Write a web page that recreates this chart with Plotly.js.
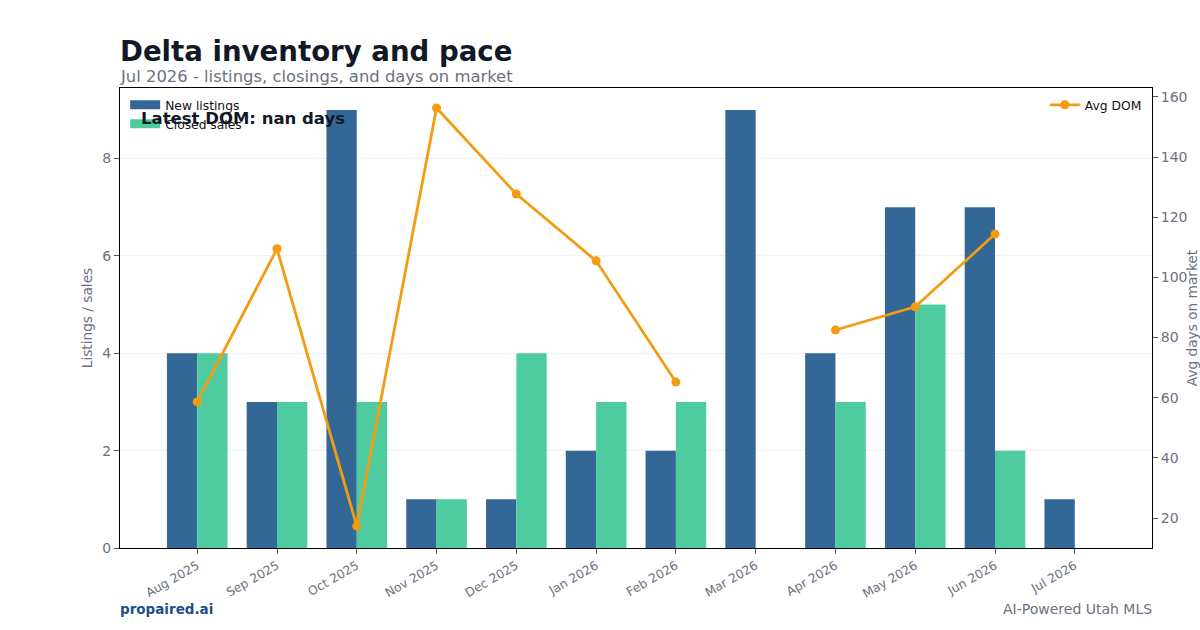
<!DOCTYPE html>
<html>
<head>
<meta charset="utf-8">
<script src="https://cdn.plot.ly/plotly-3.0.1.min.js"></script>
<style>
  html, body { margin: 0; padding: 0; background: #ffffff; }
  #chart { width: 1200px; height: 630px; }
</style>
</head>
<body>
<div id="chart"></div>
<script>
// Monthly inventory figures for the Delta market
const months = ["Aug 2025", "Sep 2025", "Oct 2025", "Nov 2025", "Dec 2025", "Jan 2026",
                "Feb 2026", "Mar 2026", "Apr 2026", "May 2026", "Jun 2026", "Jul 2026"];
const newListings = [4, 3, 9, 1, 1, 2, 2, 9, 4, 7, 7, 1];
const closedSales = [4, 3, 3, 1, 4, 3, 3, 0, 3, 5, 2, 0];
const avgDom = [58.6, 109.5, 17.3, 156.3, 127.7, 105.5, 65.2, null, 82.5, 90.2, 114.4, null];
const latestDomLabel = "Latest DOM: nan days";

const FONT = "DejaVu Sans, Liberation Sans, sans-serif";
const GRAY = "#6b7280";
const BLUE = "#336896";
const GREEN = "#4ecca0";
const ORANGE = "#f39c12";
const idx = months.map((_, i) => i);

const traces = [
  {
    type: "bar", name: "New listings", x: idx, y: newListings,
    marker: { color: BLUE }, showlegend: false, hoverinfo: "skip"
  },
  {
    type: "bar", name: "Closed sales", x: idx, y: closedSales,
    marker: { color: GREEN }, showlegend: false, hoverinfo: "skip"
  },
  // legend keys drawn as wide flat patches
  {
    type: "scatter", mode: "lines", name: "New listings", x: [null], y: [null],
    line: { color: BLUE, width: 9 }, legend: "legend", showlegend: true, hoverinfo: "skip"
  },
  {
    type: "scatter", mode: "lines", name: "Closed sales", x: [null], y: [null],
    line: { color: GREEN, width: 9 }, legend: "legend", showlegend: true, hoverinfo: "skip"
  },
  {
    type: "scatter", mode: "lines+markers", name: "Avg DOM", x: idx, y: avgDom,
    yaxis: "y2", connectgaps: false,
    line: { color: ORANGE, width: 2.8 },
    marker: { color: ORANGE, size: 9 },
    legend: "legend2", hoverinfo: "skip"
  }
];

const layout = {
  width: 1200, height: 630,
  margin: { l: 120, r: 48, t: 88, b: 82 },
  paper_bgcolor: "#ffffff", plot_bgcolor: "#ffffff",
  font: { family: FONT, color: GRAY, size: 13 },
  barmode: "group", bargap: 0.24, bargroupgap: 0,
  showlegend: true,
  xaxis: {
    range: [-0.968, 11.968],
    tickmode: "array", tickvals: idx, ticktext: months,
    tickangle: -30, tickfont: { size: 12.3, color: GRAY },
    ticks: "outside", ticklen: 5, tickcolor: "#555",
    showgrid: false, zeroline: false,
    showline: true, linecolor: "#000", linewidth: 1, mirror: true
  },
  yaxis: {
    range: [0, 9.45], dtick: 2,
    tickfont: { size: 14, color: GRAY },
    ticks: "outside", ticklen: 5, tickcolor: "#555",
    showgrid: true, gridcolor: "#f1f1f1", gridwidth: 1,
    zeroline: false,
    showline: true, linecolor: "#000", linewidth: 1, mirror: true,
    title: { text: "Listings / sales", font: { size: 13.7, color: GRAY }, standoff: 6 }
  },
  yaxis2: {
    overlaying: "y", side: "right",
    range: [10.05, 162.95], dtick: 20,
    tickfont: { size: 14, color: GRAY },
    ticks: "outside", ticklen: 5, tickcolor: "#555",
    showgrid: false, zeroline: false,
    title: { text: "Avg days on market", font: { size: 13.7, color: GRAY }, standoff: 19 }
  },
  legend: {
    x: 0.005, y: 0.995, xanchor: "left", yanchor: "top",
    bgcolor: "rgba(255,255,255,0)", borderwidth: 0,
    font: { size: 12.3, color: "#111" }, tracegroupgap: 2,
    itemwidth: 30
  },
  legend2: {
    x: 0.995, y: 0.995, xanchor: "right", yanchor: "top",
    bgcolor: "rgba(255,255,255,0)", borderwidth: 0,
    font: { size: 12.3, color: "#111" }
  },
  annotations: [
    {
      text: "<b>Delta inventory and pace</b>", xref: "paper", yref: "paper",
      x: 0, y: 1.080, xshift: -2, xanchor: "left", yanchor: "middle", showarrow: false,
      font: { size: 27.6, color: "#111827", family: FONT }
    },
    {
      text: "Jul 2026 - listings, closings, and days on market", xref: "paper", yref: "paper",
      x: 0, y: 1.024, xshift: -2, xanchor: "left", yanchor: "middle", showarrow: false,
      font: { size: 16.4, color: GRAY, family: FONT }
    },
    {
      text: "<b>" + latestDomLabel + "</b>", xref: "paper", yref: "paper",
      x: 0.0195, y: 0.933, xshift: -1, xanchor: "left", yanchor: "middle", showarrow: false,
      font: { size: 16.5, color: "#111827", family: FONT }
    },
    {
      text: "<b>propaired.ai</b>", xref: "paper", yref: "paper",
      x: 0, y: -0.1326, xshift: -2, xanchor: "left", yanchor: "middle", showarrow: false,
      font: { size: 13.5, color: "#1d4e89", family: FONT }
    },
    {
      text: "AI-Powered Utah MLS", xref: "paper", yref: "paper",
      x: 1, y: -0.1326, xshift: 2, xanchor: "right", yanchor: "middle", showarrow: false,
      font: { size: 14, color: GRAY, family: FONT }
    }
  ]
};

Plotly.newPlot("chart", traces, layout, { displayModeBar: false, staticPlot: true });
</script>
</body>
</html>
